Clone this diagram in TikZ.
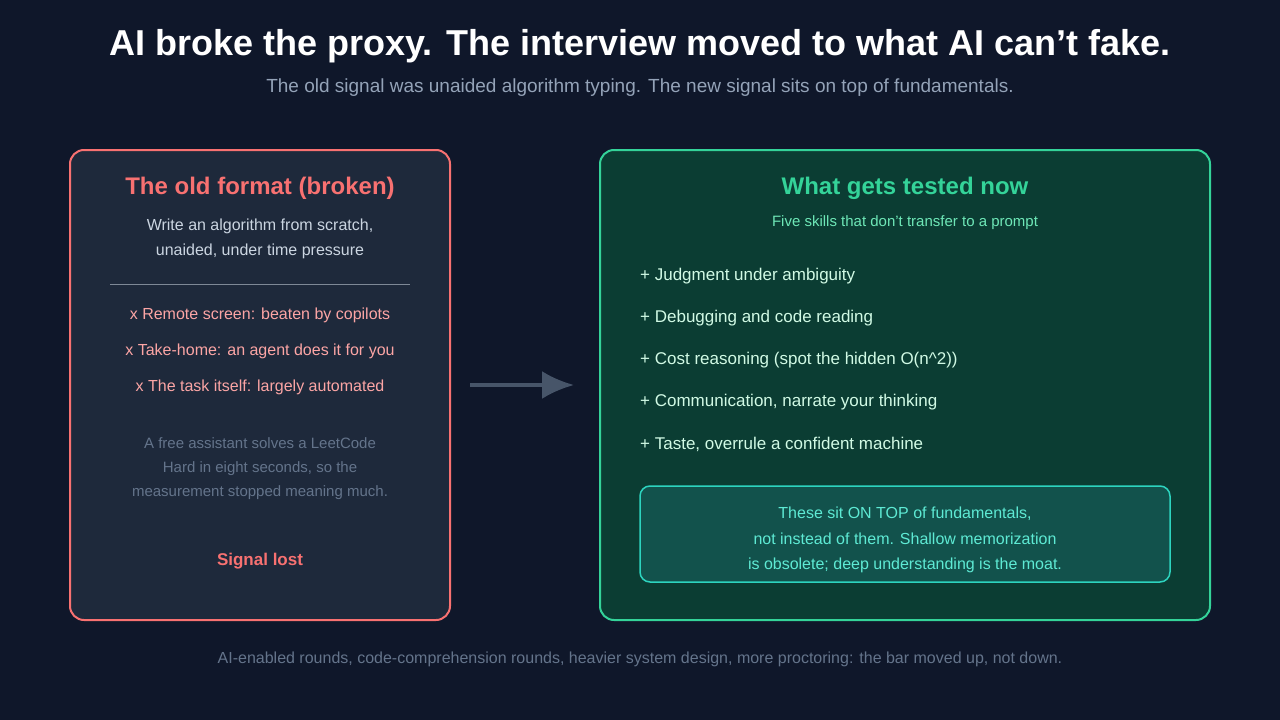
\documentclass[tikz,border=0pt]{standalone}
\usepackage{fontspec}
\setmainfont{Liberation Sans}
\usetikzlibrary{positioning,arrows.meta}
\definecolor{bgdark}{HTML}{0F172A}
\definecolor{oldfill}{HTML}{1E293B}
\definecolor{oldred}{HTML}{F87171}
\definecolor{oldpink}{HTML}{FCA5A5}
\definecolor{oldtext}{HTML}{CBD5E1}
\definecolor{mutedgray}{HTML}{64748B}
\definecolor{newfill}{HTML}{0B3D33}
\definecolor{newgreen}{HTML}{34D399}
\definecolor{newsub}{HTML}{6EE7B7}
\definecolor{newitem}{HTML}{D1FAE5}
\definecolor{notefill}{HTML}{12524C}
\definecolor{noteline}{HTML}{2DD4BF}
\definecolor{notetext}{HTML}{5EEAD4}
\definecolor{arrowgray}{HTML}{475569}
\definecolor{subgray}{HTML}{94A3B8}
\tikzset{
  fs/.style={font=\fontsize{#1pt}{1.6\dimexpr#1pt\relax}\selectfont},
  fsb/.style={font=\fontsize{#1pt}{1.6\dimexpr#1pt\relax}\selectfont\bfseries},
  panel/.style={draw=#1, line width=2pt, rounded corners=14pt},
  txt/.style={inner sep=0pt, align=center},
  item/.style={txt, anchor=west, text=newitem, fs=17},
  baditem/.style={txt, text=oldpink, fs=16},
}
\begin{document}
\begin{tikzpicture}[x=1pt,y=-1pt]
\fill[bgdark] (0,0) rectangle (1280,720);
\useasboundingbox (0,0) rectangle (1280,720);
% header
\node[txt, text=white, fsb=36] (title) at (640,46) {AI broke the proxy. The interview moved to what AI can't fake.};
\node[txt, text=subgray, fs=19] (subtitle) at (640,88) {The old signal was unaided algorithm typing. The new signal sits on top of fundamentals.};
% old format panel
\draw[panel=oldred, fill=oldfill] (70,150) rectangle (450,620);
\node[txt, text=oldred, fsb=24] (oldtitle) at (260,188) {The old format (broken)};
\node[txt, text=oldtext, fs=16] (olddesc) at (260,239) {Write an algorithm from scratch,\\unaided, under time pressure};
\draw[arrowgray!70, line width=0.8pt] (110,284) -- (410,284);
\node[baditem] (bad1) at (260,315) {x Remote screen: beaten by copilots};
\node[baditem] (bad2) at (260,351) {x Take-home: an agent does it for you};
\node[baditem] (bad3) at (260,387) {x The task itself: largely automated};
\node[txt, text=mutedgray, fs=15] (oldnote) at (260,469) {A free assistant solves a LeetCode\\Hard in eight seconds, so the\\measurement stopped meaning much.};
\node[txt, text=oldred, fsb=17] (lost) at (260,561) {Signal lost};
% arrow
\coordinate (arrowstart) at (470,385);
\coordinate (arrowend) at (574,385);
\draw[arrowgray, line width=4pt, -{Latex[length=32pt,width=28pt]}] (arrowstart) -- (arrowend);
% new panel
\draw[panel=newgreen, fill=newfill] (600,150) rectangle (1210,620);
\node[txt, text=newgreen, fsb=24] (newtitle) at (905,188) {What gets tested now};
\node[txt, text=newsub, fs=15] (newsub) at (905,223) {Five skills that don't transfer to a prompt};
\foreach \t [count=\i] in {Judgment under ambiguity, Debugging and code reading, Cost reasoning (spot the hidden O(n\textasciicircum 2)), {Communication, narrate your thinking}, {Taste, overrule a confident machine}}
  \node[item] (skill\i) at (640,234+42*\i) {+ \t};
\draw[panel=noteline, line width=1.5pt, rounded corners=10pt, fill=notefill] (640,486) rectangle (1170,582);
\node[txt, text=notetext, fs=16] (note) at (905,540) {These sit ON TOP of fundamentals,\\not instead of them. Shallow memorization\\is obsolete; deep understanding is the moat.};
% footer
\node[txt, text=mutedgray, fs=16] (footer) at (640,659) {AI-enabled rounds, code-comprehension rounds, heavier system design, more proctoring: the bar moved up, not down.};
\end{tikzpicture}
\end{document}
